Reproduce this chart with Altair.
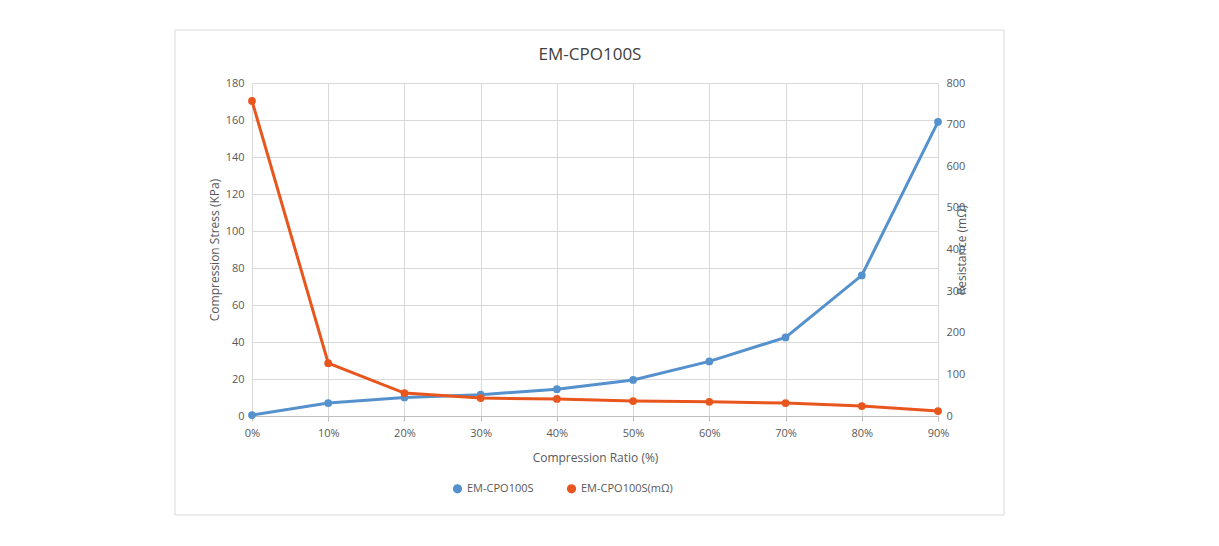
import pandas as pd
import altair as alt

ratio = [0.0, 0.1, 0.2, 0.3, 0.4, 0.5, 0.6, 0.7, 0.8, 0.9]
stress = [0.5, 7, 10, 11.5, 14.5, 19.5, 29.5, 42.5, 76, 159]
resistance = [757, 127, 55, 43, 41, 36, 34, 31, 24, 12]

s1 = "EM-CPO100S"
s2 = "EM-CPO100S(mΩ)"
df = pd.DataFrame({"ratio": ratio, "stress": stress, "resistance": resistance})
df1 = df.assign(series=s1)
df2 = df.assign(series=s2)

FONT = "Open Sans"
GREY = "#595959"
color = alt.Color(
    "series:N",
    scale=alt.Scale(domain=[s1, s2], range=["#5591cc", "#e8561e"]),
    legend=alt.Legend(
        title=None, orient="none", legendX=200, legendY=400, direction="horizontal",
        symbolType="circle", symbolSize=60, labelFont=FONT, labelFontSize=11,
        labelColor=GREY, columnPadding=30,
    ),
)

x = alt.X(
    "ratio:Q", title="Compression Ratio (%)",
    scale=alt.Scale(domain=[0, 0.9], nice=False),
    axis=alt.Axis(values=ratio, format=".0%", gridColor="#d9d9d9", domainColor="#bfbfbf",
                  tickColor="#bfbfbf", labelColor=GREY, titleColor=GREY, labelFont=FONT,
                  titleFont=FONT, labelFontSize=11, titleFontSize=12, titleFontWeight="normal",
                  labelFlush=False, labelPadding=6, titlePadding=14),
)
axis_common = dict(gridColor="#d9d9d9", domain=False, ticks=False, labelColor=GREY,
                   titleColor=GREY, labelFont=FONT, titleFont=FONT, labelFontSize=11,
                   titleFontSize=12, titleFontWeight="normal", labelPadding=8)

left = alt.Chart(df1).mark_line(point=alt.OverlayMarkDef(size=60, filled=True), strokeWidth=3).encode(
    x=x,
    y=alt.Y("stress:Q", title="Compression Stress (KPa)",
            scale=alt.Scale(domain=[0, 180], nice=False),
            axis=alt.Axis(values=list(range(0, 181, 20)), **axis_common)),
    color=color,
)
right = alt.Chart(df2).mark_line(point=alt.OverlayMarkDef(size=60, filled=True), strokeWidth=3).encode(
    x=x,
    y=alt.Y("resistance:Q", title="Resistance (mΩ)",
            scale=alt.Scale(domain=[0, 800], nice=False),
            axis=alt.Axis(values=list(range(0, 801, 100)), orient="right", grid=False,
                          titleAngle=270, **axis_common)),
    color=color,
)

frame = alt.Chart(pd.DataFrame({"a": [0]})).mark_rect(
    fill=None, stroke="#d9d9d9", strokeWidth=1
).encode(x=alt.value(-77), x2=alt.value(752), y=alt.value(-53), y2=alt.value(432))

title = alt.Chart(pd.DataFrame({"t": [s1]})).mark_text(
    font=FONT, fontSize=17, color="#404040", align="center", baseline="middle"
).encode(text="t:N", x=alt.value(338), y=alt.value(-28))

chart = alt.layer(frame, title, left, right).resolve_scale(y="independent").properties(
    width=686, height=333,
    autosize=alt.AutoSizeParams(type="none"),
    padding={"left": 244, "top": 75, "right": 200, "bottom": 120},
).configure_view(stroke=None)

chart.save("out.html", embed_options={"renderer": "svg", "actions": False})
